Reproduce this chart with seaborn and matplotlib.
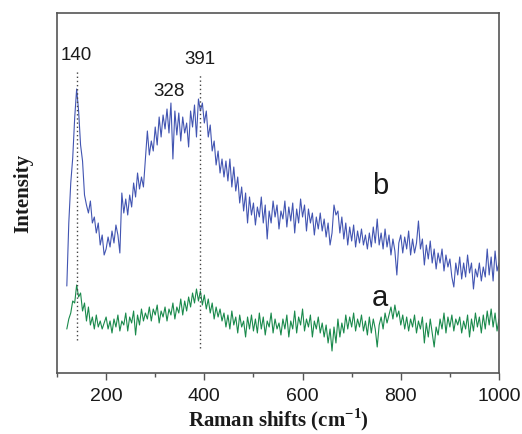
import numpy as np
import pandas as pd
import matplotlib
matplotlib.use("Agg")
import matplotlib.pyplot as plt
import seaborn as sns

# Raman shift axis (cm^-1), step 4 from 120 to 1000
shift = list(range(120, 1001, 4))

# Curve b (blue) intensity (arbitrary units)
intensity_b = [
    87, 150, 190, 215, 255, 284, 262, 228, 212, 178,
    168, 160, 172, 150, 156, 140, 150, 128, 138, 118,
    124, 136, 126, 142, 130, 148, 138, 120, 180, 160,
    174, 158, 178, 166, 190, 176, 200, 184, 196, 186,
    214, 242, 218, 232, 222, 246, 228, 256, 236, 258,
    244, 264, 240, 270, 214, 262, 238, 260, 232, 256,
    240, 250, 226, 262, 246, 268, 236, 274, 262, 270,
    250, 262, 236, 248, 222, 232, 208, 222, 200, 214,
    196, 212, 192, 214, 186, 206, 182, 196, 170, 186,
    162, 180, 150, 176, 158, 170, 148, 166, 156, 176,
    150, 168, 134, 162, 150, 172, 156, 168, 144, 162,
    154, 172, 146, 166, 152, 170, 140, 164, 150, 174,
    156, 168, 142, 164, 150, 160, 138, 156, 144, 160,
    142, 154, 136, 150, 128, 140, 168, 158, 162, 140,
    156, 134, 150, 128, 146, 132, 148, 126, 142, 130,
    144, 128, 138, 124, 140, 126, 146, 130, 154, 128,
    140, 124, 144, 126, 138, 118, 134, 122, 98, 130,
    138, 120, 136, 124, 142, 118, 134, 120, 130, 152,
    124, 134, 108, 128, 114, 132, 110, 124, 104, 120,
    110, 124, 102, 118, 106, 114, 96, 86, 110, 98,
    116, 94, 110, 96, 118, 100, 110, 84, 104, 96,
    110, 92, 106, 96, 124, 98, 116, 92, 122, 102,
    110,
]

# Curve a (green) intensity
intensity_a = [
    44, 54, 60, 72, 70, 88, 76, 80, 62, 70,
    52, 66, 48, 56, 44, 58, 46, 52, 44, 50,
    56, 44, 52, 40, 54, 46, 58, 42, 52, 48,
    60, 42, 56, 50, 62, 38, 58, 48, 64, 52,
    60, 54, 66, 52, 64, 58, 68, 50, 62, 56,
    66, 52, 64, 58, 70, 54, 66, 60, 74, 58,
    72, 62, 76, 66, 80, 70, 84, 72, 82, 68,
    78, 64, 74, 60, 70, 54, 66, 56, 64, 52,
    60, 46, 58, 44, 62, 48, 56, 40, 58, 46,
    52, 36, 56, 44, 58, 42, 54, 40, 60, 44,
    56, 38, 52, 46, 60, 40, 54, 44, 50, 38,
    54, 44, 58, 36, 52, 44, 62, 40, 56, 48,
    64, 42, 54, 46, 58, 36, 52, 44, 56, 40,
    50, 36, 48, 30, 44, 22, 46, 30, 54, 36,
    50, 40, 58, 44, 56, 46, 60, 42, 54, 46,
    58, 42, 52, 38, 56, 40, 54, 44, 26, 48,
    56, 44, 60, 50, 58, 66, 54, 68, 56, 62,
    48, 58, 44, 56, 42, 54, 46, 58, 40, 52,
    44, 56, 30, 50, 36, 54, 40, 26, 46, 38,
    54, 44, 60, 40, 56, 46, 58, 42, 54, 48,
    56, 40, 52, 44, 58, 36, 54, 42, 60, 46,
    56, 40, 58, 44, 62, 48, 64, 46, 60, 42,
    54,
]

peak_positions = [140, 391]
peak_labels = ["140", "391"]
shoulder_position = 328
xticks = [200, 400, 600, 800, 1000]

sns.set_style("white")
plt.rcParams["font.family"] = ["Liberation Sans", "DejaVu Sans"]
plt.rcParams["mathtext.fontset"] = "custom"
plt.rcParams["mathtext.rm"] = "Liberation Serif:bold"
plt.rcParams["mathtext.bf"] = "Liberation Serif:bold"

df = pd.DataFrame({"shift": shift, "b": intensity_b, "a": intensity_a})

fig = plt.figure(figsize=(5.22, 4.34), dpi=100)
ax = fig.add_axes([57 / 522, 61 / 434, 442 / 522, 360 / 434])

blue = "#4255b2"
green = "#1a8a4c"
sns.lineplot(data=df, x="shift", y="b", ax=ax, color=blue, lw=0.8)
sns.lineplot(data=df, x="shift", y="a", ax=ax, color=green, lw=0.8)

ax.set_xlim(100, 1000)
ax.set_ylim(0, 360)

# dotted guide lines
ax.vlines(peak_positions[0], 33, 302, colors="#444444", linestyles=(0, (1, 2)), lw=1)
ax.vlines(peak_positions[1], 25, 300, colors="#444444", linestyles=(0, (1, 2)), lw=1)

tc = "#1a1a1a"
ax.text(peak_positions[0], 318, peak_labels[0], ha="center", va="center", fontsize=13.5, color=tc)
ax.text(peak_positions[1], 313, peak_labels[1], ha="center", va="center", fontsize=13.5, color=tc)
ax.text(shoulder_position, 282, str(shoulder_position), ha="center", va="center", fontsize=13.5, color=tc)
ax.text(758, 187, "b", ha="center", va="center", fontsize=21, color=tc)
ax.text(758, 75, "a", ha="center", va="center", fontsize=21, color=tc)

ax.set_xticks(xticks)
ax.set_xticklabels([str(t) for t in xticks], fontsize=14, color=tc)
ax.set_xticks(list(range(100, 1001, 100)), minor=True)
ax.set_yticks([])
ax.tick_params(axis="x", which="major", direction="out", length=5, width=1, color="#555555", bottom=True, pad=6)
ax.tick_params(axis="x", which="minor", direction="out", length=3, width=1, color="#555555", bottom=True)

for s in ax.spines.values():
    s.set_color("#555555")
    s.set_linewidth(1.2)

ax.set_xlabel(r"Raman shifts (cm$^{-1}$)", fontsize=15, fontfamily="Liberation Serif", fontweight="bold", labelpad=0.5, color=tc)
ax.set_ylabel("Intensity", fontsize=15, fontfamily="Liberation Serif", fontweight="bold", labelpad=17, color=tc)

fig.savefig("out.png", dpi=100)
